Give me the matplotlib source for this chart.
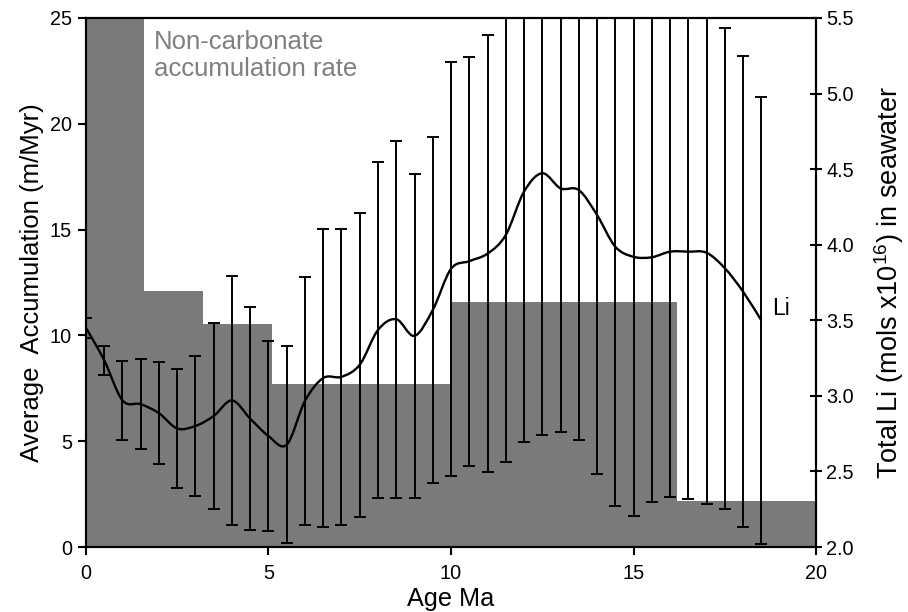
import numpy as np
import matplotlib
matplotlib.use('Agg')
import matplotlib.pyplot as plt
from matplotlib.path import Path
from matplotlib.patches import PathPatch

plt.rcParams['font.family'] = ['Liberation Sans', 'DejaVu Sans']
plt.rcParams['mathtext.fontset'] = 'custom'
plt.rcParams['mathtext.rm'] = 'Liberation Sans'

# Li reconstruction, sampled every 0.5 Ma
age = [0.0, 0.5, 1.0, 1.5, 2.0, 2.5, 3.0, 3.5, 4.0, 4.5, 5.0, 5.5, 6.0, 6.5,
       7.0, 7.5, 8.0, 8.5, 9.0, 9.5, 10.0, 10.5, 11.0, 11.5, 12.0, 12.5,
       13.0, 13.5, 14.0, 14.5, 15.0, 15.5, 16.0, 16.5, 17.0, 17.5, 18.0, 18.5]
li = [3.45, 3.235, 2.97, 2.945, 2.885, 2.784, 2.801, 2.867, 2.97, 2.849,
      2.734, 2.677, 2.967, 3.118, 3.126, 3.206, 3.436, 3.507, 3.397, 3.568,
      3.84, 3.891, 3.941, 4.064, 4.351, 4.473, 4.373, 4.362, 4.197, 3.987,
      3.92, 3.917, 3.954, 3.954, 3.947, 3.845, 3.69, 3.5]
li_err = [0.065, 0.095, 0.261, 0.297, 0.336, 0.392, 0.463, 0.617, 0.825, 0.737,
          0.629, 0.653, 0.822, 0.984, 0.98, 1.006, 1.11, 1.181, 1.071, 1.147,
          1.37, 1.353, 1.447, 1.504, 1.658, 1.732, 1.61, 1.654, 1.714, 1.716,
          1.718, 1.621, 1.625, 1.638, 1.663, 1.591, 1.56, 1.48]

# non-carbonate accumulation rate, stepwise (m/Myr)
step_edges = [0.0, 1.6, 3.2, 5.1, 10.0, 16.2, 20.0]
step_rate = [25.0, 12.1, 10.55, 7.7, 11.6, 2.17]


def smooth_path(x, y):
    # Catmull-Rom style cubic Bezier through the points
    pts = np.column_stack([x, y])
    verts = [pts[0]]
    codes = [Path.MOVETO]
    n = len(pts)
    for i in range(n - 1):
        p0 = pts[max(i - 1, 0)]
        p1 = pts[i]
        p2 = pts[i + 1]
        p3 = pts[min(i + 2, n - 1)]
        verts += [p1 + (p2 - p0) / 6.0, p2 - (p3 - p1) / 6.0, p2]
        codes += [Path.CURVE4] * 3
    return Path(verts, codes)


fig = plt.figure(figsize=(9.08, 6.12), dpi=100)
ax = fig.add_axes([0.0947, 0.1062, 0.804, 0.8644])
ax2 = ax.twinx()

widths = np.diff(step_edges)
ax.bar(step_edges[:-1], step_rate, width=widths, align='edge',
       color='#7a7a7a', linewidth=0)
ax.set_xlim(0, 20)
ax.set_ylim(0, 25)
ax.set_xticks([0, 5, 10, 15, 20])
ax.set_yticks([0, 5, 10, 15, 20, 25])

ax2.errorbar(age, li, yerr=li_err, fmt='none', ecolor='black',
             elinewidth=1.4, capsize=4, capthick=1.4)
ax2.add_patch(PathPatch(smooth_path(age, li), facecolor='none',
                        edgecolor='black', linewidth=1.7))
ax2.set_ylim(2.0, 5.5)
ax2.set_yticks([2.0, 2.5, 3.0, 3.5, 4.0, 4.5, 5.0, 5.5])
ax2.set_yticklabels([f'{v:.1f}' for v in ax2.get_yticks()])

for a in (ax, ax2):
    for s in a.spines.values():
        s.set_linewidth(1.5)
ax.tick_params(axis='both', labelsize=14.3, width=1.5, length=6,
               direction='out')
ax.tick_params(axis='x', pad=6)
ax.tick_params(axis='y', pad=4)
ax2.tick_params(axis='y', labelsize=14.3, width=1.5, length=9,
                direction='inout', pad=3)

ax.set_xlabel('Age Ma', fontsize=18.2, labelpad=3)
ax.set_ylabel('Average  Accumulation (m/Myr)', fontsize=18.5, labelpad=4)
ax2.set_ylabel('Total Li (mols x10$^{\\mathrm{16}}$) in seawater',
               fontsize=19.5, labelpad=13)

ax.text(1.85, 24.45, 'Non-carbonate\naccumulation rate', color='#7f7f7f',
        fontsize=18.5, va='top', ha='left', linespacing=1.2)
ax2.text(18.8, 3.58, 'Li', fontsize=16.5, va='center', ha='left')

fig.savefig('out.png', dpi=100)
